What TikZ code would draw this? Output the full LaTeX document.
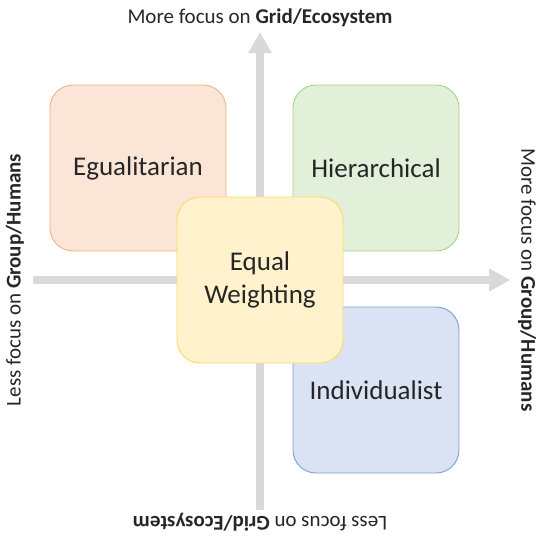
\documentclass[tikz,border=0pt]{standalone}
\usepackage{fontspec}
\setmainfont{Carlito}
\usetikzlibrary{arrows.meta}
\definecolor{axisgray}{HTML}{D9D9D9}
\definecolor{egfill}{HTML}{FBE5D6}
\definecolor{egline}{HTML}{F4B183}
\definecolor{hifill}{HTML}{E2F0D9}
\definecolor{hiline}{HTML}{A9D18E}
\definecolor{infill}{HTML}{DAE3F3}
\definecolor{inline}{HTML}{7C9CD8}
\definecolor{eqfill}{HTML}{FFF2CC}
\definecolor{eqline}{HTML}{FFD966}
\tikzset{
  quadbox/.style={rounded corners=23pt,minimum width=166pt,minimum height=166pt,
    line width=0.9pt,align=center,font=\fontsize{27}{33}\selectfont,text=black!85},
  axislabel/.style={font=\fontsize{21}{25}\selectfont,text=black!85},
  axisline/.style={axisgray,line width=8pt,-{Triangle[width=22pt,length=21pt]}}
}
\begin{document}
\begin{tikzpicture}[x=1pt,y=-1pt]
\useasboundingbox (0,0) rectangle (539,536);
% axes
\coordinate (vbot) at (260,510);
\coordinate (vtop) at (260,32);
\coordinate (hleft) at (33,280);
\coordinate (hright) at (510,280);
\draw[axisline] (vbot) -- (vtop);
\draw[axisline] (hleft) -- (hright);
% quadrants
\node[quadbox,draw=egline,fill=egfill,minimum width=176pt] (egual) at (138,168) {Egualitarian};
\node[quadbox,draw=hiline,fill=hifill] (hier) at (376,168) {Hierarchical};
\node[quadbox,draw=inline,fill=infill] (indiv) at (376,390) {Individualist};
\node[quadbox,draw=eqline,fill=eqfill] (equal) at (260,280) {Equal\\Weighting};
% axis labels
\node[axislabel] (top) at (260,18) {More focus on \textbf{Grid/Ecosystem}};
\node[axislabel,rotate=180] (bottom) at (260,522) {Less focus on \textbf{Grid/Ecosystem}};
\node[axislabel,rotate=90] (left) at (15,280) {Less focus on \textbf{Group/Humans}};
\node[axislabel,rotate=-90] (right) at (527,280) {More focus on \textbf{Group/Humans}};
\end{tikzpicture}
\end{document}
